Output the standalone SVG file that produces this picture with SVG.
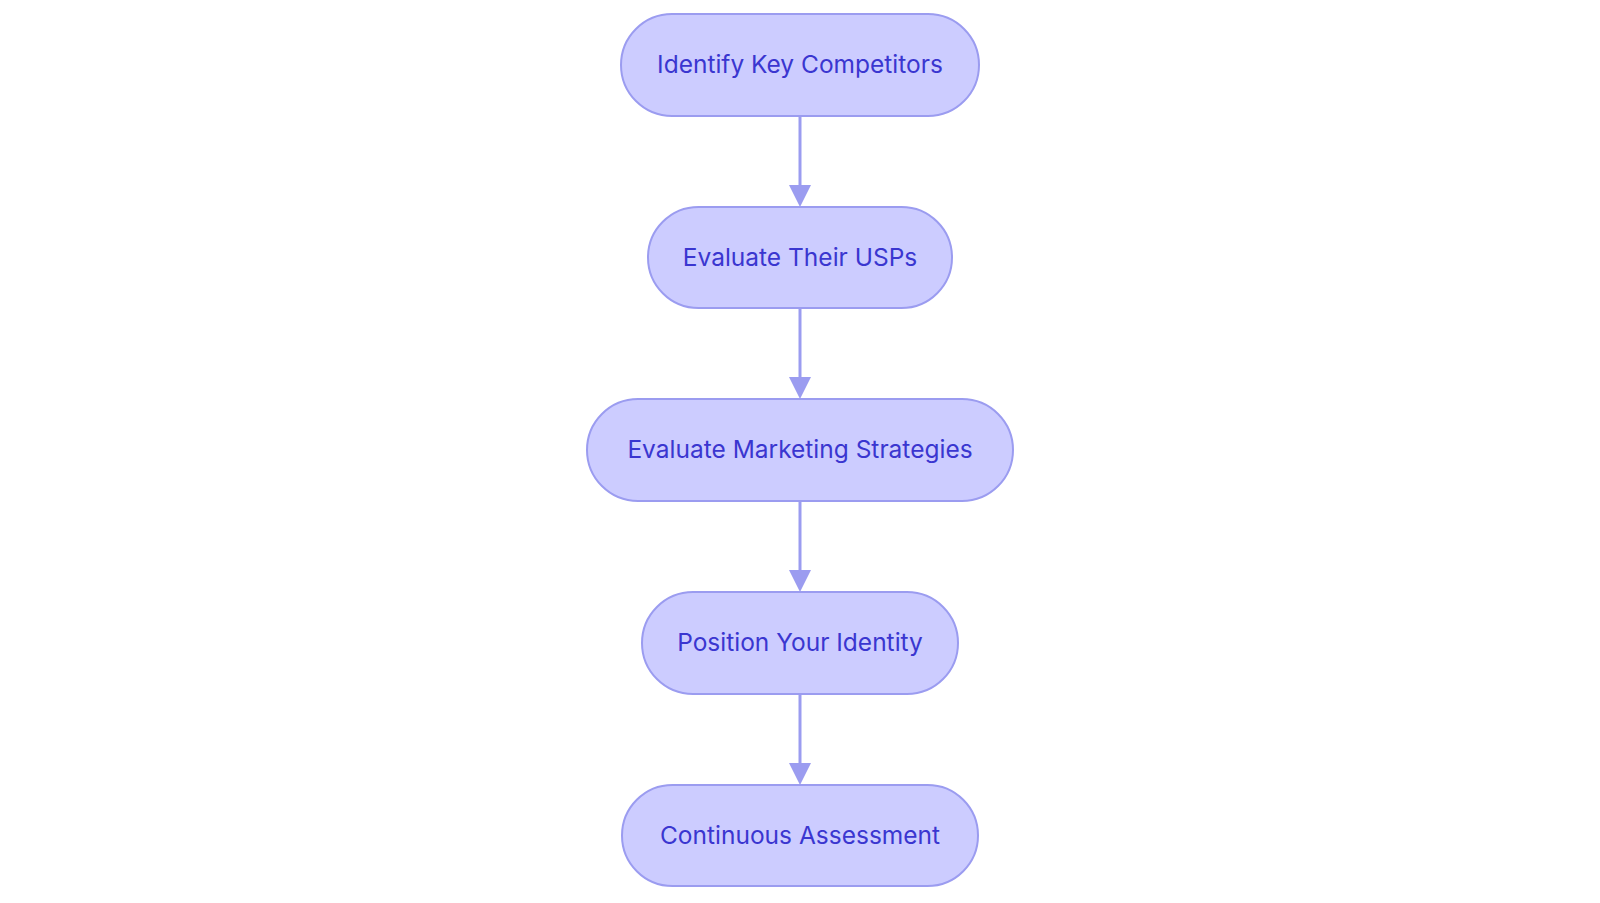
<svg xmlns="http://www.w3.org/2000/svg" width="1600" height="903" viewBox="0 0 1600 903">
<style>
.n rect{fill:#ccccff;stroke:#9b9cf0;stroke-width:2}
.n text{font-family:Inter,"Open Sans",sans-serif;font-size:24.5px;fill:#3a36d0;text-anchor:middle;dominant-baseline:central}
.e line{stroke:#9b9cf0;stroke-width:3}
.e path{fill:#9b9cf0}
</style>
<rect width="1600" height="903" fill="#fff"/>
<g class="e">
<line x1="800" y1="117" x2="800" y2="186"/><path d="M789,185L811,185L800,207z"/>
<line x1="800" y1="309" x2="800" y2="378"/><path d="M789,377L811,377L800,399z"/>
<line x1="800" y1="502" x2="800" y2="571"/><path d="M789,570L811,570L800,592z"/>
<line x1="800" y1="695" x2="800" y2="764"/><path d="M789,763L811,763L800,785z"/>
</g>
<g id="n1" class="n"><rect x="621" y="14" width="358" height="102" rx="51"/><text x="800" y="64">Identify Key Competitors</text></g>
<g id="n2" class="n"><rect x="648" y="207" width="304" height="101" rx="50.5"/><text x="800" y="257">Evaluate Their USPs</text></g>
<g id="n3" class="n"><rect x="587" y="399" width="426" height="102" rx="51"/><text x="800" y="449">Evaluate Marketing Strategies</text></g>
<g id="n4" class="n"><rect x="642" y="592" width="316" height="102" rx="51"/><text x="800" y="642">Position Your Identity</text></g>
<g id="n5" class="n"><rect x="622" y="785" width="356" height="101" rx="50.5"/><text x="800" y="835">Continuous Assessment</text></g>
</svg>
